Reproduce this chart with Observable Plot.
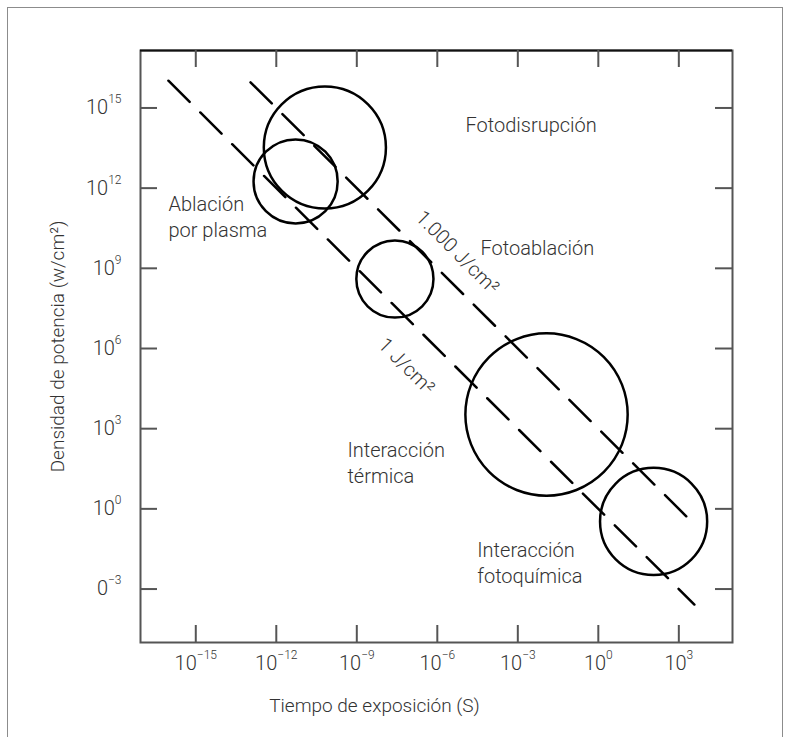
<!DOCTYPE html>
<html><head><meta charset="utf-8">
<script src="https://cdn.jsdelivr.net/npm/d3@7"></script>
<script src="https://cdn.jsdelivr.net/npm/@observablehq/plot@0.6"></script>
<style>
html,body{margin:0;padding:0;background:#fff;width:785px;height:737px;overflow:hidden;}
#wrap{position:relative;width:785px;height:737px;}
#border{position:absolute;left:7px;top:7px;width:776px;height:740px;border:1.5px solid #8c8c8c;border-bottom:none;box-sizing:border-box;pointer-events:none;}
</style></head><body><div id="wrap"><div id="chart"></div><div id="border"></div></div>
<script>
// ---- data ----
const xTickExp = [-15, -12, -9, -6, -3, 0, 3];
const xTickLabels = ["10^−15", "10^−12", "10^−9", "10^−6", "10^−3", "10^0", "10^3"];
const yTickExp = [15, 12, 9, 6, 3, 0, -3];
const yTickLabels = ["10^15", "10^12", "10^9", "10^6", "10^3", "10^0", "0^−3"];
const xDomainExp = [-17.06, 5];
const yDomainExp = [-5, 17.15];

// interaction regimes: log10(time s), log10(power W/cm2), radius in decades
const circleT = [-10.19, -11.28, -7.58, -1.93, 2.06];
const circleP = [13.52, 12.25, 8.60, 3.53, -0.47];
const circleR = [2.28, 1.57, 1.44, 3.03, 2.0];

// constant fluence lines (J/cm2) with log10 time extents
const fluences = [1, 1000];
const fluenceStartExp = [-16.02, -12.96];
const fluenceEndExp = [3.58, 3.43];
const fluenceLabels = ["1 J/cm²", "1.000 J/cm²"];
const fluenceLabelT = [-7.15, -5.25];
const fluenceLabelP = [5.33, 9.59];

const regionLabels = ["Fotodisrupción", "Ablación\npor plasma", "Fotoablación", "Interacción\ntérmica", "Interacción\nfotoquímica"];
const regionT = [-4.95, -16.02, -4.39, -9.35, -4.51];
const regionP = [14.43, 10.98, 9.83, 1.78, -1.97];

const xTitle = "Tiempo de exposición (S)";
const yTitle = "Densidad de potencia (w/cm²)";

// ---- build ----
const W = 785, H = 737, mL = 140, mR = 53, mT = 50, mB = 95;
const plotW = W - mL - mR, plotH = H - mT - mB;
const pxPerDecade = (plotW / (xDomainExp[1] - xDomainExp[0]) + plotH / (yDomainExp[1] - yDomainExp[0])) / 2;
const tickLen = 17;

const xTicks = xTickExp.map(e => 10 ** e);
const yTicks = yTickExp.map(e => 10 ** e);
const xLab = new Map(xTickExp.map((e, i) => [e, xTickLabels[i]]));
const yLab = new Map(yTickExp.map((e, i) => [e, yTickLabels[i]]));

const circles = circleT.map((t, i) => ({t: 10 ** t, p: 10 ** circleP[i], r: circleR[i]}));
const lineData = fluences.flatMap((f, i) => [fluenceStartExp[i], fluenceEndExp[i]].map(e => ({f, t: 10 ** e, p: f / 10 ** e})));
const fluenceText = fluenceLabels.map((s, i) => ({s, t: 10 ** fluenceLabelT[i], p: 10 ** fluenceLabelP[i]}));
const regions = regionLabels.map((s, i) => ({s, t: 10 ** regionT[i], p: 10 ** regionP[i]}));

const gray = "#555";
const chart = Plot.plot({
  width: W, height: H, marginLeft: mL, marginRight: mR, marginTop: mT, marginBottom: mB,
  style: {fontFamily: "Roboto, 'Liberation Sans', sans-serif", fontSize: "20px", fontWeight: 300, color: "#333", background: "transparent"},
  x: {type: "log", domain: xDomainExp.map(e => 10 ** e)},
  y: {type: "log", domain: yDomainExp.map(e => 10 ** e)},
  r: {type: "linear", domain: [0, 1], range: [0, pxPerDecade]},
  marks: [
    Plot.frame({stroke: gray, strokeWidth: 2}),
    Plot.ruleY([10 ** yDomainExp[1]], {stroke: "#111", strokeWidth: 2}),
    Plot.tickX(xTicks, {x: d => d, insetTop: plotH - tickLen, stroke: gray, strokeWidth: 2}),
    Plot.tickX(xTicks, {x: d => d, insetBottom: plotH - tickLen, stroke: gray, strokeWidth: 2}),
    Plot.tickY(yTicks, {y: d => d, insetRight: plotW - tickLen, stroke: gray, strokeWidth: 2}),
    Plot.tickY(yTicks, {y: d => d, insetLeft: plotW - tickLen, stroke: gray, strokeWidth: 2}),
    Plot.axisX({ticks: xTicks, tickSize: 0, tickPadding: 13, label: null, fontSize: 20,
      tickFormat: d => xLab.get(Math.round(Math.log10(d)))}),
    Plot.axisY({ticks: yTicks, tickSize: 0, tickPadding: 19, label: null, fontSize: 20,
      tickFormat: d => yLab.get(Math.round(Math.log10(d)))}),
    Plot.line(lineData, {x: "t", y: "p", z: "f", stroke: "#000", strokeWidth: 2.5, strokeDasharray: "30,15"}),
    Plot.dot(circles, {x: "t", y: "p", r: "r", stroke: "#000", strokeWidth: 2.5, fill: "none"}),
    Plot.text(regions, {x: "t", y: "p", text: "s", textAnchor: "start", lineAnchor: "middle", lineHeight: 1.33, fontSize: 20}),
    Plot.text(fluenceText, {x: "t", y: "p", text: "s", rotate: 45, fontSize: 20}),
    Plot.text([xTitle], {frameAnchor: "bottom", textAnchor: "middle", lineAnchor: "middle", dx: -62, dy: 63, fontSize: 19}),
    Plot.text([yTitle], {frameAnchor: "left", textAnchor: "middle", lineAnchor: "middle", dx: -83, rotate: -90, fontSize: 19})
  ]
});
document.getElementById("chart").appendChild(chart);

// superscripts on tick labels
d3.select(chart).selectAll('g[aria-label="x-axis tick label"] text, g[aria-label="y-axis tick label"] text').each(function() {
  const s = this.textContent;
  const k = s.indexOf("^");
  if (k < 0) return;
  const base = s.slice(0, k), exp = s.slice(k + 1);
  const t = d3.select(this);
  t.text(null);
  t.append("tspan").text(base);
  t.append("tspan").attr("dy", -11).attr("font-size", 12).text(exp);
});
</script></body></html>
